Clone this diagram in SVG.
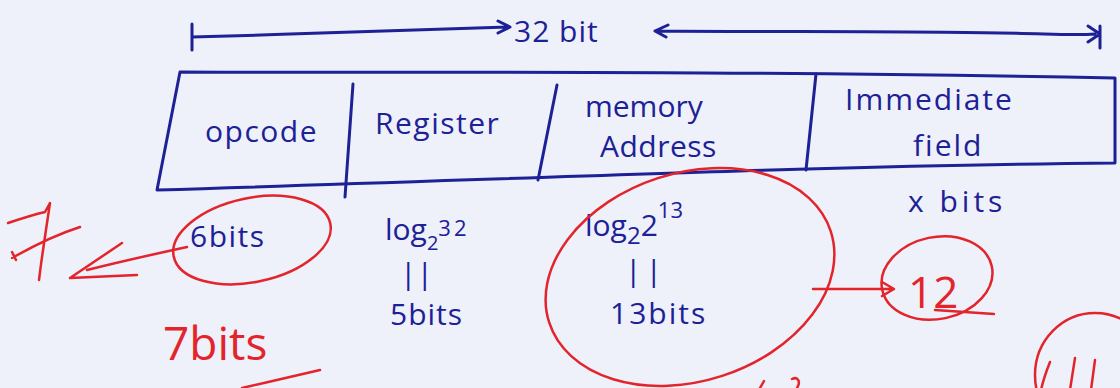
<svg xmlns="http://www.w3.org/2000/svg" width="1120" height="388" viewBox="0 0 1120 388">
<defs>
<style>
.ink{fill:none;stroke:#1c2196;stroke-width:3;stroke-linecap:round;stroke-linejoin:round}
.red{fill:none;stroke:#e3242b;stroke-width:2.5;stroke-linecap:round;stroke-linejoin:round}
.bt{font-family:"Open Sans","Liberation Sans",sans-serif;fill:#1c2196;font-size:30px}
.rt{font-family:"Open Sans","Liberation Sans",sans-serif;fill:#e3242b}
</style>
</defs>
<rect width="1120" height="388" fill="#eef0fa"/>
<g id="width-arrow">
<path class="ink" d="M192 24 L192 50 M192 37 C300 34 420 30 508 27 M498 21 L510 27 L498 33"/>
<text class="bt" x="514" y="42" font-size="32" letter-spacing="1">32 bit</text>
<path class="ink" d="M655 31 C780 32 900 31 1000 33 C1040 33 1070 36 1095 34 M668 25 L655 31 L666 37 M1088 26 L1100 34 L1088 42 M1100 26 L1100 48"/>
</g>
<g id="instruction-box">
<path class="ink" d="M180 72 C400 73 700 70 1115 78 L1115 163 C800 166 500 180 157 190 Z"/>
</g>
<g id="field-opcode">
<path class="ink" d="M353 84 L345 197"/>
<text class="bt" x="205" y="142" font-size="32" letter-spacing="1.5">opcode</text>
</g>
<g id="field-register">
<path class="ink" d="M557 85 L538 180"/>
<text class="bt" x="375" y="134" font-size="34" letter-spacing="1.5">Register</text>
</g>
<g id="field-memory">
<path class="ink" d="M816 74 L806 170"/>
<text class="bt" x="585" y="117" font-size="26">memory</text>
<text class="bt" x="600" y="157" font-size="26" letter-spacing="0.5">Address</text>
</g>
<g id="field-immediate">
<text class="bt" x="845" y="110" font-size="34" letter-spacing="2">Immediate</text>
<text class="bt" x="913" y="156" font-size="34" letter-spacing="2">field</text>
</g>
<g id="bits-row">
<text class="bt" x="190" y="247" font-size="30" letter-spacing="1.5">6bits</text>
<text class="bt" x="385" y="240" font-size="30">log<tspan font-size="20" dy="10">2</tspan><tspan dy="-14" font-size="22" letter-spacing="3">32</tspan></text>
<text class="bt" x="400" y="284" font-size="20">||</text>
<text class="bt" x="390" y="325" font-size="30" letter-spacing="1">5bits</text>
<text class="bt" x="585" y="236" font-size="30">log<tspan font-size="24" dy="8">2</tspan><tspan dy="-8" font-size="30">2</tspan><tspan dy="-18" font-size="22">13</tspan></text>
<text class="bt" x="625" y="281" font-size="22" letter-spacing="4">||</text>
<text class="bt" x="610" y="324" font-size="32" letter-spacing="2">13bits</text>
<text class="bt" x="908" y="212" font-size="34" letter-spacing="4">x bits</text>
</g>
<g id="annotations">
<ellipse class="red" cx="252" cy="240" rx="80" ry="42" transform="rotate(-12 252 240)"/>
<path class="red" d="M187 247 C150 255 115 263 87 270 M122 243 L70 278 L137 275"/>
<path class="red" d="M8 223 C20 219 32 215 45 212 L50 203 C46 230 42 255 39 280 M12 258 C35 245 58 234 80 227 M12 252 L16 260"/>
<text class="rt" x="163" y="360" font-size="46">7bits</text>
<path class="red" d="M242 388 C268 382 295 376 320 370"/>
<ellipse class="red" cx="690" cy="277" rx="148" ry="104" transform="rotate(-18 690 277)"/>
<path class="red" d="M813 289 L893 289 M882 282 L894 289 L882 296"/>
<ellipse class="red" cx="937" cy="278" rx="56" ry="41" transform="rotate(-12 937 278)"/>
<text class="rt" x="908" y="308" font-size="44">12</text>
<path class="red" d="M935 310 L994 314"/>
<ellipse class="red" cx="1095" cy="375" rx="60" ry="62"/>
<path class="red" d="M1050 362 C1046 372 1043 381 1041 390 M1075 358 L1070 390 M1095 360 L1091 390"/>
<path class="red" d="M760 388 L764 381 M792 379 C798 376 801 382 797 388"/>
</g>
</svg>
